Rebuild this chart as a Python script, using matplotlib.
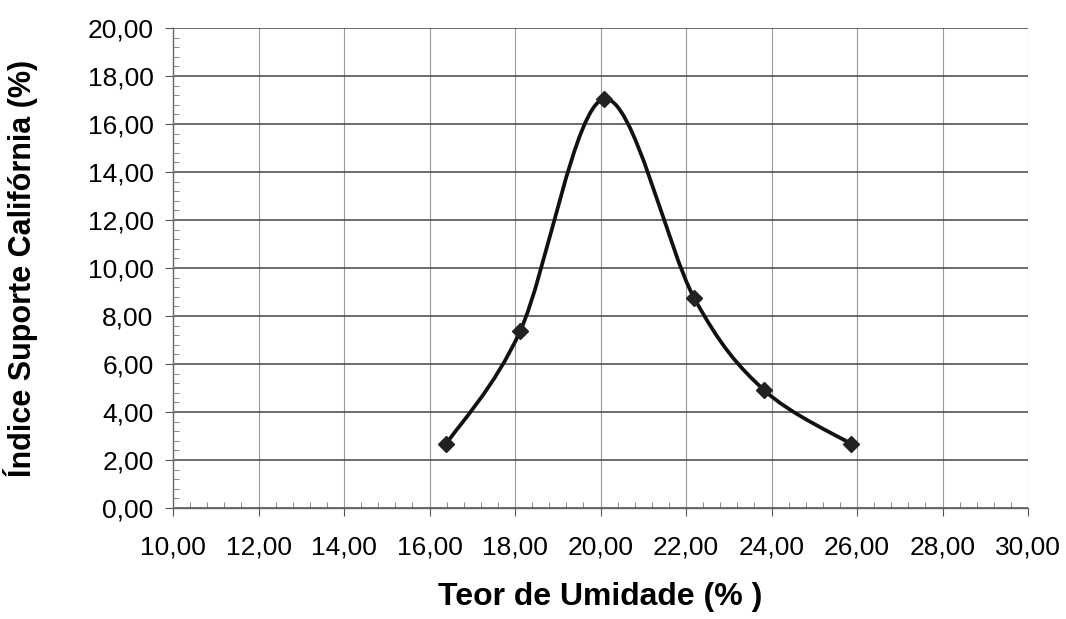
import matplotlib
matplotlib.use("Agg")
import matplotlib.pyplot as plt
from matplotlib.path import Path
from matplotlib.patches import PathPatch
from matplotlib.ticker import MultipleLocator, FuncFormatter

plt.rcParams['font.family'] = ['Liberation Sans', 'DejaVu Sans']

# dados
umidade = [16.39, 18.12, 20.08, 22.19, 23.82, 25.86]
isc = [2.67, 7.37, 17.04, 8.75, 4.92, 2.67]

fig = plt.figure(figsize=(10.66, 6.19), dpi=100)
ax = fig.add_axes([0.1623, 0.1793, 0.8021, 0.7755])

# linha suavizada (bezier tipo Excel) passando pelos pontos
n = len(umidade)
verts = [(umidade[0], isc[0])]
codes = [Path.MOVETO]
for i in range(n - 1):
    x0, y0 = umidade[max(i - 1, 0)], isc[max(i - 1, 0)]
    x1, y1 = umidade[i], isc[i]
    x2, y2 = umidade[i + 1], isc[i + 1]
    x3, y3 = umidade[min(i + 2, n - 1)], isc[min(i + 2, n - 1)]
    c1 = (x1 + (x2 - x0) / 6, y1 + (y2 - y0) / 6)
    c2 = (x2 - (x3 - x1) / 6, y2 - (y3 - y1) / 6)
    verts += [c1, c2, (x2, y2)]
    codes += [Path.CURVE4] * 3
ax.add_patch(PathPatch(Path(verts, codes), facecolor='none', edgecolor='#111111',
                       lw=2.7, zorder=3))
ax.plot(umidade, isc, linestyle='none', marker='D', ms=8.5, color='#222222', zorder=4)

ax.set_xlim(10, 30)
ax.set_ylim(0, 20)
ax.xaxis.set_major_locator(MultipleLocator(2))
ax.yaxis.set_major_locator(MultipleLocator(2))
ax.xaxis.set_minor_locator(MultipleLocator(0.4))
ax.yaxis.set_minor_locator(MultipleLocator(0.4))
fmt = FuncFormatter(lambda v, p: f"{v:.2f}".replace('.', ','))
ax.xaxis.set_major_formatter(fmt)
ax.yaxis.set_major_formatter(fmt)

ax.grid(True, axis='y', which='major', color='#444444', lw=1.1)
ax.grid(True, axis='x', which='major', color='#999999', lw=0.8)
ax.set_axisbelow(True)

for s in ['top', 'right']:
    ax.spines[s].set_visible(False)
for s in ['left', 'bottom']:
    ax.spines[s].set_color('#666666')
    ax.spines[s].set_linewidth(1.0)

ax.tick_params(which='major', direction='out', length=6, color='#555555',
               labelsize=19)
ax.tick_params(axis='x', which='major', pad=14)
ax.tick_params(axis='y', which='major', pad=8)
ax.tick_params(which='minor', direction='in', length=4, color='#777777')

ax.set_xlabel('Teor de Umidade (% )', fontsize=23, fontweight='bold', labelpad=16)
ax.set_ylabel('Índice Suporte Califórnia (%)', fontsize=22, fontweight='bold',
              labelpad=36)

fig.savefig('out.png', dpi=100, facecolor='white')
